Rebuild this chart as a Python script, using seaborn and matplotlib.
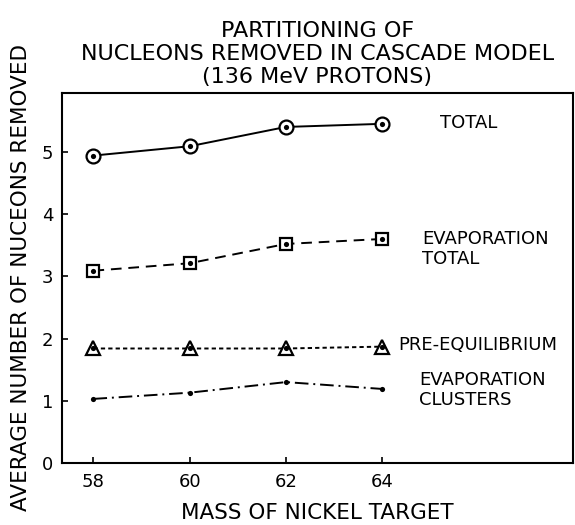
import numpy as np
import pandas as pd
import matplotlib
matplotlib.use("Agg")
import matplotlib.pyplot as plt
import seaborn as sns

# data
mass = [58, 60, 62, 64]
total = [4.94, 5.09, 5.40, 5.45]
evap_total = [3.09, 3.21, 3.52, 3.60]
pre_eq = [1.84, 1.84, 1.84, 1.87]
evap_clusters = [1.03, 1.13, 1.30, 1.19]

y_ticks = [0, 1, 2, 3, 4, 5]
x_ticks = [58, 60, 62, 64]

sns.set_style("ticks")
plt.rcParams['font.family'] = ['DejaVu Sans']
plt.rcParams['text.color'] = 'black'
plt.rcParams['axes.labelcolor'] = 'black'
plt.rcParams['xtick.color'] = 'black'
plt.rcParams['ytick.color'] = 'black'
plt.rcParams['axes.edgecolor'] = 'black'

fig = plt.figure(figsize=(5.75, 5.25), dpi=100, facecolor='white')
ax = fig.add_axes([0.1073, 0.1181, 0.8887, 0.7053])
ax.set_facecolor('white')

# (values, marker, marker size, line style, label, label x, label y)
series = [
    (total, 'o', 10, '-', 'TOTAL', 65.2, 5.46),
    (evap_total, 's', 9, (0, (5.5, 3.5)), 'EVAPORATION\nTOTAL', 64.83, 3.44),
    (pre_eq, '^', 10, (0, (2.2, 1.6)), 'PRE-EQUILIBRIUM', 64.33, 1.89),
    (evap_clusters, None, 0, (0, (7, 2.5, 1, 2.5)), 'EVAPORATION\nCLUSTERS', 64.77, 1.17),
]

for vals, mk, ms, ls, lab, lx, ly in series:
    df = pd.DataFrame({'mass': mass, 'n': vals})
    if mk is not None:
        sns.lineplot(data=df, x='mass', y='n', ax=ax, color='black', linewidth=1.4,
                     linestyle=ls, marker=mk, markersize=ms, markerfacecolor='white',
                     markeredgecolor='black', markeredgewidth=1.6)
    else:
        sns.lineplot(data=df, x='mass', y='n', ax=ax, color='black', linewidth=1.4,
                     linestyle=ls)
    # the dot in the middle of each symbol
    sns.scatterplot(data=df, x='mass', y='n', ax=ax, color='black', s=14,
                    linewidth=0, zorder=5)
    ax.text(lx, ly, lab, fontsize=13, ha='left', va='center', linespacing=1.15,
            color='black')

ax.set_xlim(57.34, 67.96)
ax.set_ylim(0, 5.95)
ax.set_xticks(x_ticks)
ax.set_yticks(y_ticks)
ax.tick_params(direction='in', length=4, width=1.2, labelsize=13)
ax.tick_params(axis='y', pad=6)
ax.tick_params(axis='x', pad=7)
for sp in ax.spines.values():
    sp.set_visible(True)
    sp.set_linewidth(1.5)

ax.set_xlabel('MASS OF NICKEL TARGET', fontsize=15.5, labelpad=9)
ax.set_ylabel('AVERAGE NUMBER OF NUCEONS REMOVED', fontsize=15.5, labelpad=8)
ax.set_title('PARTITIONING OF\nNUCLEONS REMOVED IN CASCADE MODEL\n(136 MeV PROTONS)',
             fontsize=16, linespacing=1.2, pad=7, color='black')

plt.savefig('out.png', dpi=100, facecolor='white')
